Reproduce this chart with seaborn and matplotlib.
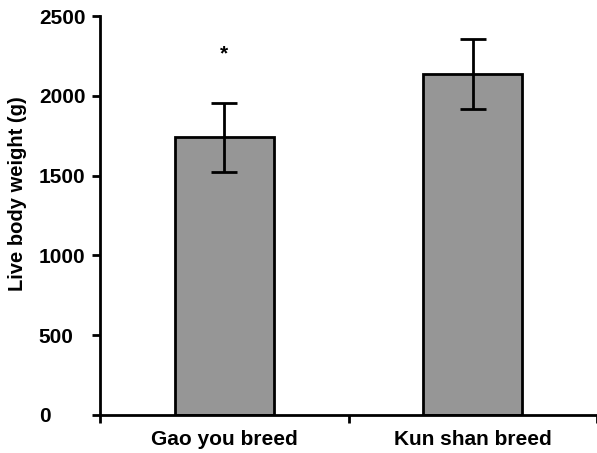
import matplotlib
matplotlib.use("Agg")
import matplotlib.pyplot as plt
import seaborn as sns
import pandas as pd

categories = ["Gao you breed", "Kun shan breed"]
means = [1740, 2135]
errors = [215, 218]
significance = ["*", ""]
yticks = [0, 500, 1000, 1500, 2000, 2500]

sns.set_style("white")
plt.rcParams['font.family'] = ['Liberation Sans', 'DejaVu Sans']
plt.rcParams['text.color'] = 'black'
plt.rcParams['xtick.color'] = 'black'
plt.rcParams['ytick.color'] = 'black'
plt.rcParams['axes.labelcolor'] = 'black'

df = pd.DataFrame({"breed": categories, "weight": means})

fig = plt.figure(figsize=(5.97, 4.53), dpi=100)
ax = fig.add_axes([100/597, 38/453, 497/597, 399/453])

sns.barplot(data=df, x="breed", y="weight", ax=ax, color="#969696",
            saturation=1, width=0.4, edgecolor="black", linewidth=2, errorbar=None)
ax.errorbar(x=list(range(len(categories))), y=means, yerr=errors, fmt="none",
            ecolor="black", elinewidth=2, capsize=9.5, capthick=2)
for i, s in enumerate(significance):
    if s:
        ax.text(i, means[i] + errors[i] + 310, s, ha="center", va="center",
                fontsize=15, fontweight="bold")

ax.set_xlim(-0.5, 1.5)
ax.set_ylim(0, 2500)
ax.set_yticks(yticks)
ax.set_yticklabels([str(v) for v in yticks], fontsize=15, fontweight="bold")
for lab in ax.get_yticklabels():
    lab.set_horizontalalignment("left")
ax.set_xticks(range(len(categories)))
ax.set_xticklabels(categories, fontsize=15, fontweight="bold")
ax.set_xticks([-0.5, 0.5, 1.5], minor=True)
ax.tick_params(axis="x", which="major", length=0, pad=11)
ax.tick_params(axis="x", which="minor", length=6, width=2, direction="out", bottom=True)
ax.tick_params(axis="y", which="major", length=6, width=2, direction="out", left=True, pad=38)
ax.set_xlabel("")
ax.set_ylabel("Live body weight (g)", fontsize=14.5, fontweight="bold")
ax.yaxis.set_label_coords(-0.147, 0.556)

for side in ["top", "right"]:
    ax.spines[side].set_visible(False)
for side in ["left", "bottom"]:
    ax.spines[side].set_linewidth(2)
    ax.spines[side].set_color("black")

fig.savefig("out.png", dpi=100)
